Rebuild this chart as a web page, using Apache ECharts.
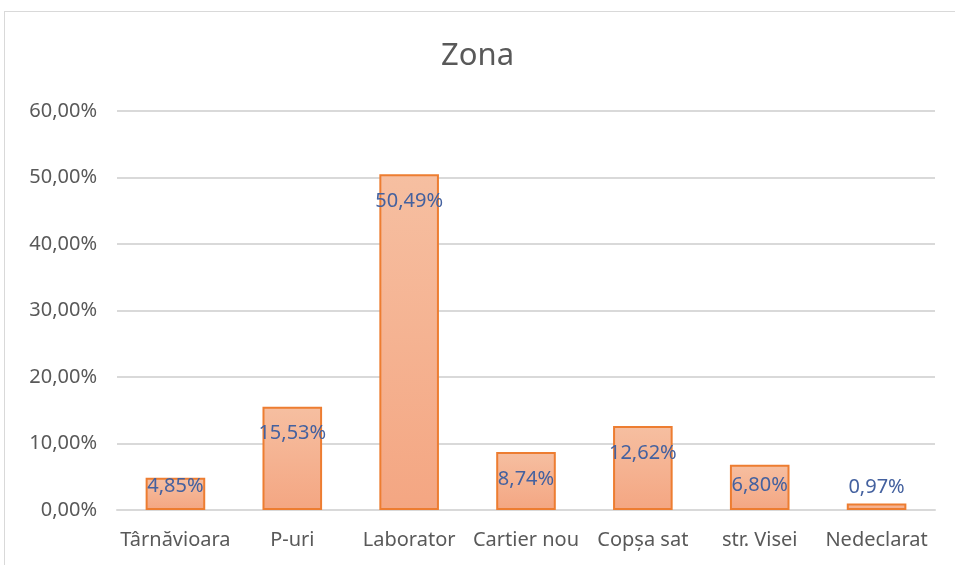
<!DOCTYPE html>
<html>
<head>
<meta charset="utf-8">
<script src="https://cdn.jsdelivr.net/npm/echarts@6/dist/echarts.min.js"></script>
<style>
  html, body { margin: 0; padding: 0; background: #fff; }
  #frame { position: absolute; left: 4px; top: 11px; width: 970px; height: 570px; border: 1px solid #d9d9d9; box-sizing: border-box; }
  #chart { position: absolute; left: 0; top: 0; width: 955px; height: 565px; }
</style>
</head>
<body>
<div id="frame"></div>
<div id="chart"></div>
<script>
const categories = ['Târnăvioara', 'P-uri', 'Laborator', 'Cartier nou', 'Copșa sat', 'str. Visei', 'Nedeclarat']
const values = [4.85, 15.53, 50.49, 8.74, 12.62, 6.80, 0.97]
const yTicks = { min: 0, max: 60, interval: 10 }

const fmt = (v) => v.toFixed(2).replace('.', ',') + '%'

// Excel "inside end" labels: small bars push the label up or out of the bar
function labelFor(v) {
  if (v < 2) return { position: 'top', distance: 6 }
  if (v < 6) return { position: 'insideTop', distance: -1 }
  if (v < 8) return { position: 'insideTop', distance: 11 }
  return { position: 'insideTop', distance: 17 }
}

const chart = echarts.init(document.getElementById('chart'))
chart.setOption({
  animation: false,
  textStyle: { fontFamily: 'Noto Sans' },
  title: {
    text: 'Zona',
    left: 'center',
    top: 36,
    textStyle: { color: '#595959', fontSize: 31, fontWeight: 'normal', fontFamily: 'Noto Sans' }
  },
  grid: { left: 117, right: 20, top: 111, bottom: 55 },
  xAxis: {
    type: 'category',
    data: categories,
    axisLine: { lineStyle: { color: '#d9d9d9', width: 2 } },
    axisTick: { show: false },
    axisLabel: { color: '#595959', fontSize: 20, margin: 20, interval: 0 }
  },
  yAxis: {
    type: 'value',
    min: yTicks.min,
    max: yTicks.max,
    interval: yTicks.interval,
    axisLine: { show: false },
    axisTick: { show: false },
    splitLine: { lineStyle: { color: '#d9d9d9', width: 2 } },
    axisLabel: { color: '#595959', fontSize: 20, margin: 20, formatter: fmt }
  },
  series: [{
    type: 'bar',
    barCategoryGap: '49%',
    data: values.map(v => ({ value: v, label: labelFor(v) })),
    itemStyle: {
      color: new echarts.graphic.LinearGradient(0, 0, 0, 1, [
        { offset: 0, color: '#f6bfa1' },
        { offset: 1, color: '#f4a682' }
      ]),
      borderColor: '#ed7d31',
      borderWidth: 2
    },
    label: {
      show: true,
      color: '#44619f',
      fontSize: 20,
      formatter: (p) => fmt(p.value)
    }
  }]
})
</script>
</body>
</html>
